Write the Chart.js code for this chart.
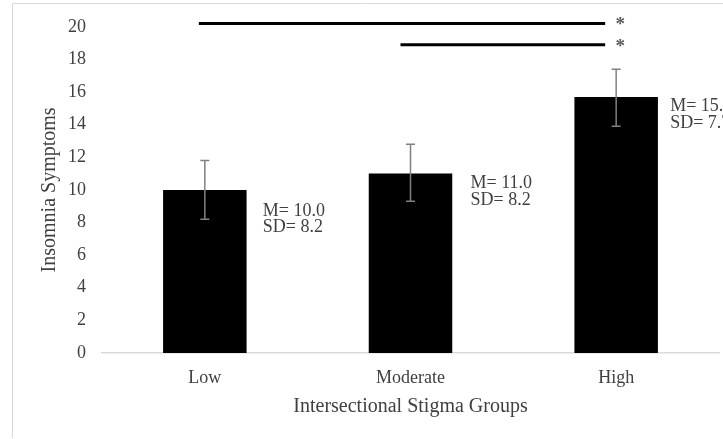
<!DOCTYPE html>
<html>
<head>
<meta charset="utf-8">
<script src="https://cdn.jsdelivr.net/npm/chart.js@4/dist/chart.umd.min.js"></script>
<style>
  html, body { margin: 0; padding: 0; background: #ffffff; }
  #wrap { width: 723px; height: 439px; position: relative; }
</style>
</head>
<body>
<div id="wrap"><canvas id="c" width="723" height="439"></canvas></div>
<script>
// ---- data ----
const categories = ['Low', 'Moderate', 'High'];
const means = [10.0, 11.0, 15.7];
const sds = [8.2, 8.2, 7.7];
const errLow = [8.2, 9.3, 13.9];
const errHigh = [11.8, 12.8, 17.4];
const yTicks = [0, 2, 4, 6, 8, 10, 12, 14, 16, 18, 20];
// significance brackets: from category -> to category, at value
const sigFrom = [0, 1];
const sigTo = [2, 2];
const sigLevel = [20.2, 18.9];
const sigMark = ['*', '*'];
// value at which each "M / SD" label block sits
const labelLevel = [8.7, 10.4, 15.1];

const FONT = "'Liberation Serif', 'Times New Roman', serif";
const TEXT = '#404040';

const annotations = {
  id: 'annotations',
  afterDatasetsDraw(chart) {
    const ctx = chart.ctx;
    const xs = chart.scales.x, ys = chart.scales.y;
    ctx.save();
    // error bars
    ctx.strokeStyle = '#808080';
    ctx.lineWidth = 1.5;
    for (let i = 0; i < categories.length; i++) {
      const x = xs.getPixelForValue(i);
      const yl = ys.getPixelForValue(errLow[i]);
      const yh = ys.getPixelForValue(errHigh[i]);
      ctx.beginPath();
      ctx.moveTo(x, yl); ctx.lineTo(x, yh);
      ctx.moveTo(x - 4.5, yl); ctx.lineTo(x + 4.5, yl);
      ctx.moveTo(x - 4.5, yh); ctx.lineTo(x + 4.5, yh);
      ctx.stroke();
    }
    // M / SD labels
    ctx.fillStyle = TEXT;
    ctx.font = '18px ' + FONT;
    ctx.textAlign = 'left';
    ctx.textBaseline = 'middle';
    const labelDx = [58, 60, 54];
    for (let i = 0; i < categories.length; i++) {
      const x = xs.getPixelForValue(i) + labelDx[i];
      const y = ys.getPixelForValue(labelLevel[i]);
      ctx.fillText('M= ' + means[i].toFixed(1), x, y);
      ctx.fillText('SD= ' + sds[i].toFixed(1), x, y + 16.5);
    }
    // significance lines
    const startDx = [-6, -10];
    ctx.strokeStyle = '#000000';
    ctx.lineWidth = 3;
    ctx.font = 'bold 19px ' + FONT;
    for (let k = 0; k < sigFrom.length; k++) {
      const y = ys.getPixelForValue(sigLevel[k]);
      const x1 = xs.getPixelForValue(sigFrom[k]) + startDx[k];
      const x2 = xs.getPixelForValue(sigTo[k]) - 11;
      ctx.beginPath();
      ctx.moveTo(x1, y); ctx.lineTo(x2, y);
      ctx.stroke();
      ctx.fillStyle = '#595959';
      ctx.textAlign = 'center';
      ctx.fillText(sigMark[k], xs.getPixelForValue(sigTo[k]) + 4, y + 2);
    }
    ctx.restore();
  },
  beforeDraw(chart) {
    const ctx = chart.ctx;
    ctx.save();
    ctx.fillStyle = '#ffffff';
    ctx.fillRect(0, 0, chart.width, chart.height);
    ctx.strokeStyle = '#d9d9d9';
    ctx.lineWidth = 1;
    ctx.beginPath();
    ctx.moveTo(12.5, 438);
    ctx.lineTo(12.5, 3.5);
    ctx.lineTo(723, 3.5);
    ctx.stroke();
    ctx.restore();
  }
};

new Chart(document.getElementById('c'), {
  type: 'bar',
  data: {
    labels: categories,
    datasets: [{
      data: means,
      backgroundColor: '#000000',
      borderWidth: 0,
      barPercentage: 1,
      categoryPercentage: 0.406
    }]
  },
  options: {
    responsive: false,
    devicePixelRatio: 1,
    animation: false,
    layout: { padding: { top: 25, left: 0, right: 4, bottom: 0 } },
    plugins: { legend: { display: false }, tooltip: { enabled: false } },
    scales: {
      x: {
        grid: { display: false },
        border: { display: true, color: '#d9d9d9', width: 1.5 },
        ticks: { color: TEXT, font: { family: FONT, size: 18 }, padding: 6 },
        title: {
          display: true, text: 'Intersectional Stigma Groups', color: TEXT,
          font: { family: FONT, size: 20 }, padding: { top: 0, bottom: 20 }
        },
        afterFit(scale) { scale.height = 86; }
      },
      y: {
        min: 0, max: 20,
        afterBuildTicks(scale) { scale.ticks = yTicks.map(v => ({ value: v })); },
        grid: { display: false, drawTicks: false },
        border: { display: false },
        ticks: { color: TEXT, font: { family: FONT, size: 18 }, padding: 16 },
        title: {
          display: true, text: 'Insomnia Symptoms', color: TEXT,
          font: { family: FONT, size: 20 }, padding: { top: 38, bottom: 0 }
        },
        afterFit(scale) { scale.width = 102; }
      }
    }
  },
  plugins: [annotations]
});
</script>
</body>
</html>
